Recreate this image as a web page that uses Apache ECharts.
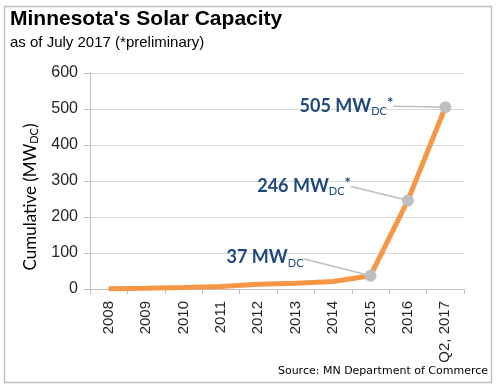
<!DOCTYPE html>
<html>
<head>
<meta charset="utf-8">
<script src="https://cdn.jsdelivr.net/npm/echarts@6/dist/echarts.min.js"></script>
<style>
html,body{margin:0;padding:0;background:#fff;}
#c{width:500px;height:390px;}
</style>
</head>
<body>
<div id="c"></div>
<script>
var categories = ['2008','2009','2010','2011','2012','2013','2014','2015','2016','Q2, 2017'];
var capacity = [1, 2, 4, 7, 13, 16, 21, 37, 246, 505];
var labelTexts = [null, null, null, null, null, null, null, '37 MW', '246 MW', '505 MW'];
var labelStars = [false, false, false, false, false, false, false, false, true, true];
var yTicks = [0, 100, 200, 300, 400, 500, 600];

var chart = echarts.init(document.getElementById('c'), null, {renderer:'canvas'});

var labelOffsets = {7: [-48, -18], 8: [-38, -14], 9: [-33, -1]};

var data = capacity.map(function(v, i){
  var item = {value: v};
  if (labelTexts[i]) {
    item.symbol = 'circle';
    item.symbolSize = 12;
    item.itemStyle = {color:'#BFBFBF', borderWidth:0};
    item.label = {
      show: true,
      position: 'left',
      distance: 5,
      padding: [0, 8, 0, 0],
      formatter: '{v|' + labelTexts[i] + '}{s|DC}' + (labelStars[i] ? '{a|*}' : '')
    };
  } else {
    item.symbol = 'none';
  }
  return item;
});

chart.setOption({
  animation: false,
  backgroundColor: '#fff',
  grid: {left: 90, right: 36, top: 73, bottom: 101, containLabel: false},
  graphic: [
    {type:'rect', shape:{x:4.5, y:6.5, width:487, height:376}, style:{fill:'none', stroke:'#BFBFBF', lineWidth:1.5}, silent:true},
    {type:'text', left: 10, top: 9, style:{text:"Minnesota's Solar Capacity", font:'bold 21px "Liberation Sans", Arial', fill:'#000'}},
    {type:'text', left: 10, top: 35, style:{text:'as of July 2017 (*preliminary)', font:'15px "Liberation Sans", Arial', fill:'#000'}},
    {type:'text', x: 31, y: 197, rotation: Math.PI/2,
      style:{text:'Cumulative (MW{s|DC})', align:'center', verticalAlign:'middle',
        font:'17px Lato', fill:'#000',
        rich:{s:{fontSize:11, fontFamily:'Lato', fill:'#000', verticalAlign:'bottom', lineHeight:11}}}},
    {type:'text', right: 12, top: 366, style:{text:'Source: MN Department of Commerce', font:'11px "DejaVu Sans"', fill:'#000', align:'right'}}
  ],
  xAxis: {
    type: 'category',
    data: categories,
    boundaryGap: true,
    axisLine: {lineStyle:{color:'#BFBFBF', width:1}},
    axisTick: {show:true, length:5, lineStyle:{color:'#BFBFBF'}},
    axisLabel: {rotate: 90, fontSize: 15, fontFamily:'"Liberation Sans", Arial', color:'#262626', margin: 12, interval: 0}
  },
  yAxis: {
    type: 'value',
    min: 0, max: 600, interval: 100,
    axisLine: {show:true, lineStyle:{color:'#BFBFBF'}},
    axisTick: {show:true, length:6, lineStyle:{color:'#BFBFBF'}},
    splitLine: {lineStyle:{color:'#D9D9D9', width:1}},
    axisLabel: {fontSize: 16, fontFamily:'"Liberation Sans", Arial', color:'#262626', margin: 12,
      formatter: function(v){ return yTicks.indexOf(v) >= 0 ? String(v) : ''; }}
  },
  series: [{
    type: 'line',
    data: data,
    lineStyle: {color:'#F79646', width:5},
    itemStyle: {color:'#F79646'},
    z: 3,
    label: {
      rich: {
        v: {fontSize:18, fontWeight:'bold', fontFamily:'Lato', color:'#1F497D', lineHeight:22},
        s: {fontSize:11, fontFamily:'Lato', color:'#1F497D', verticalAlign:'bottom', lineHeight:11},
        a: {fontSize:15, fontWeight:'bold', fontFamily:'Lato', color:'#1F497D', verticalAlign:'top', lineHeight:15}
      }
    },
    labelLine: {show: true, lineStyle:{color:'#BFBFBF', width:1.5}},
    labelLayout: function(p){
      var o = labelOffsets[p.dataIndex];
      return o ? {dx:o[0], dy:o[1]} : {};
    }
  }]
});
</script>
</body>
</html>
